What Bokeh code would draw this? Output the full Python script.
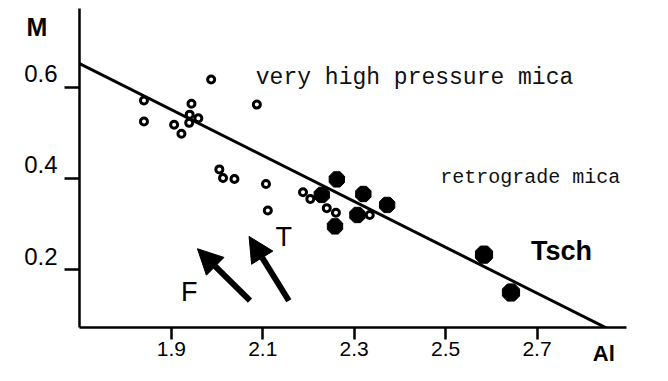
from bokeh.plotting import figure
from bokeh.models import Range1d, Label, Arrow, NormalHead, FixedTicker
from bokeh.embed import file_html
from bokeh.resources import INLINE

# ---- data (Al vs M) ----
open_al = [1.840, 1.840, 1.944, 1.940, 1.959, 1.906, 1.939, 1.922, 1.987, 2.087,
           2.005, 2.013, 2.038, 2.107, 2.111, 2.188, 2.204, 2.240, 2.260, 2.334]
open_m = [0.571, 0.525, 0.564, 0.540, 0.532, 0.518, 0.522, 0.498, 0.617, 0.562,
          0.420, 0.401, 0.399, 0.388, 0.330, 0.370, 0.355, 0.335, 0.325, 0.320]

retro_al = [2.262, 2.229, 2.320, 2.372, 2.307, 2.258]
retro_m = [0.398, 0.364, 0.366, 0.342, 0.320, 0.295]

tsch_al = [2.584, 2.643]
tsch_m = [0.233, 0.150]

trend_al = [1.699, 2.868]
trend_m = [0.652, 0.064]

arrow_f = [2.072, 0.132, 1.957, 0.246]
arrow_t = [2.157, 0.132, 2.070, 0.273]

x_ticks = [1.9, 2.1, 2.3, 2.5, 2.7]
y_ticks = [0.2, 0.4, 0.6]
y_tick_labels = ["0.2", "0.4", "0.6"]

W, H = 652, 365
LEFT, RIGHT, TOP, BB = 77, 26, 8, 38
PX_PER_AL = 458.75
PX_PER_M = 456.0
X_START = 1.699
X_END = X_START + (W - LEFT - RIGHT) / PX_PER_AL
Y_END = 0.7728
Y_START = Y_END - (H - BB - TOP) / PX_PER_M

p = figure(width=W, height=H, output_backend="svg", toolbar_location=None,
           x_range=Range1d(X_START, X_END), y_range=Range1d(Y_START, Y_END),
           min_border_left=LEFT, min_border_right=RIGHT, min_border_top=TOP,
           min_border_bottom=BB)
p.outline_line_color = None
p.grid.visible = False
p.background_fill_color = "white"
p.border_fill_color = "white"

for ax in (p.xaxis[0], p.yaxis[0]):
    ax.axis_line_width = 2.5
    ax.axis_line_color = "black"
    ax.major_tick_line_width = 2.5
    ax.major_tick_line_color = "black"
    ax.minor_tick_line_color = None
    ax.major_tick_in = 0
    ax.major_label_text_font = "Liberation Sans"
    ax.major_label_text_color = "black"

p.xaxis.ticker = FixedTicker(ticks=x_ticks)
p.yaxis.ticker = FixedTicker(ticks=y_ticks)
p.xaxis.major_tick_out = 12
p.xaxis.major_label_standoff = 2
p.xaxis.major_label_text_font_size = "21px"
p.yaxis.major_tick_out = 15
p.yaxis.major_label_standoff = 7
p.yaxis.major_label_text_font_size = "24px"
p.yaxis.major_label_text_line_height = 1.0
p.yaxis.major_label_overrides = {v: t + "\n" for v, t in zip(y_ticks, y_tick_labels)}

# trend line
p.line(trend_al, trend_m, line_width=3, line_color="black")

# open circles
p.scatter(open_al, open_m, marker="circle", size=7, line_width=3,
          line_color="black", fill_color="white")

# filled octagons
def octagons(xs, ys, r):
    try:
        p.ngon(xs, ys, radius=r, radius_units="screen", n=8, angle=0.3927,
               fill_color="black", line_color="black")
    except Exception:
        p.scatter(xs, ys, marker="circle", size=2 * r, fill_color="black",
                  line_color="black")

octagons(retro_al, retro_m, 8.3)
octagons(tsch_al, tsch_m, 9.3)

# arrows
for a in (arrow_f, arrow_t):
    p.add_layout(Arrow(x_start=a[0], y_start=a[1], x_end=a[2], y_end=a[3],
                       line_width=6, line_color="black",
                       end=NormalHead(size=25, fill_color="black", line_color="black")))

def lab(x, y, t, size, style="normal", font="Liberation Sans", align="center",
        color="black", place="center"):
    p.add_layout(Label(x=x, y=y, text=t, text_font=font, text_font_size=size,
                       text_font_style=style, text_align=align,
                       text_baseline="middle", text_color=color), place)

lab(1.606, 0.733, "M", "25px", "bold", place="left")
lab(2.846, 0.017, "Al", "22px", "bold", place="right")
lab(2.687, 0.240, "Tsch", "27px", "bold", align="left")
lab(2.146, 0.271, "T", "27px")
lab(1.939, 0.152, "F", "27px")
lab(2.432, 0.621, "very high pressure mica", "23px", font="Liberation Mono", color="#111")
lab(2.488, 0.403, "retrograde  mica", "20px", font="Liberation Mono", align="left",
    color="#111")

open("out.html", "w").write(file_html(p, INLINE))
